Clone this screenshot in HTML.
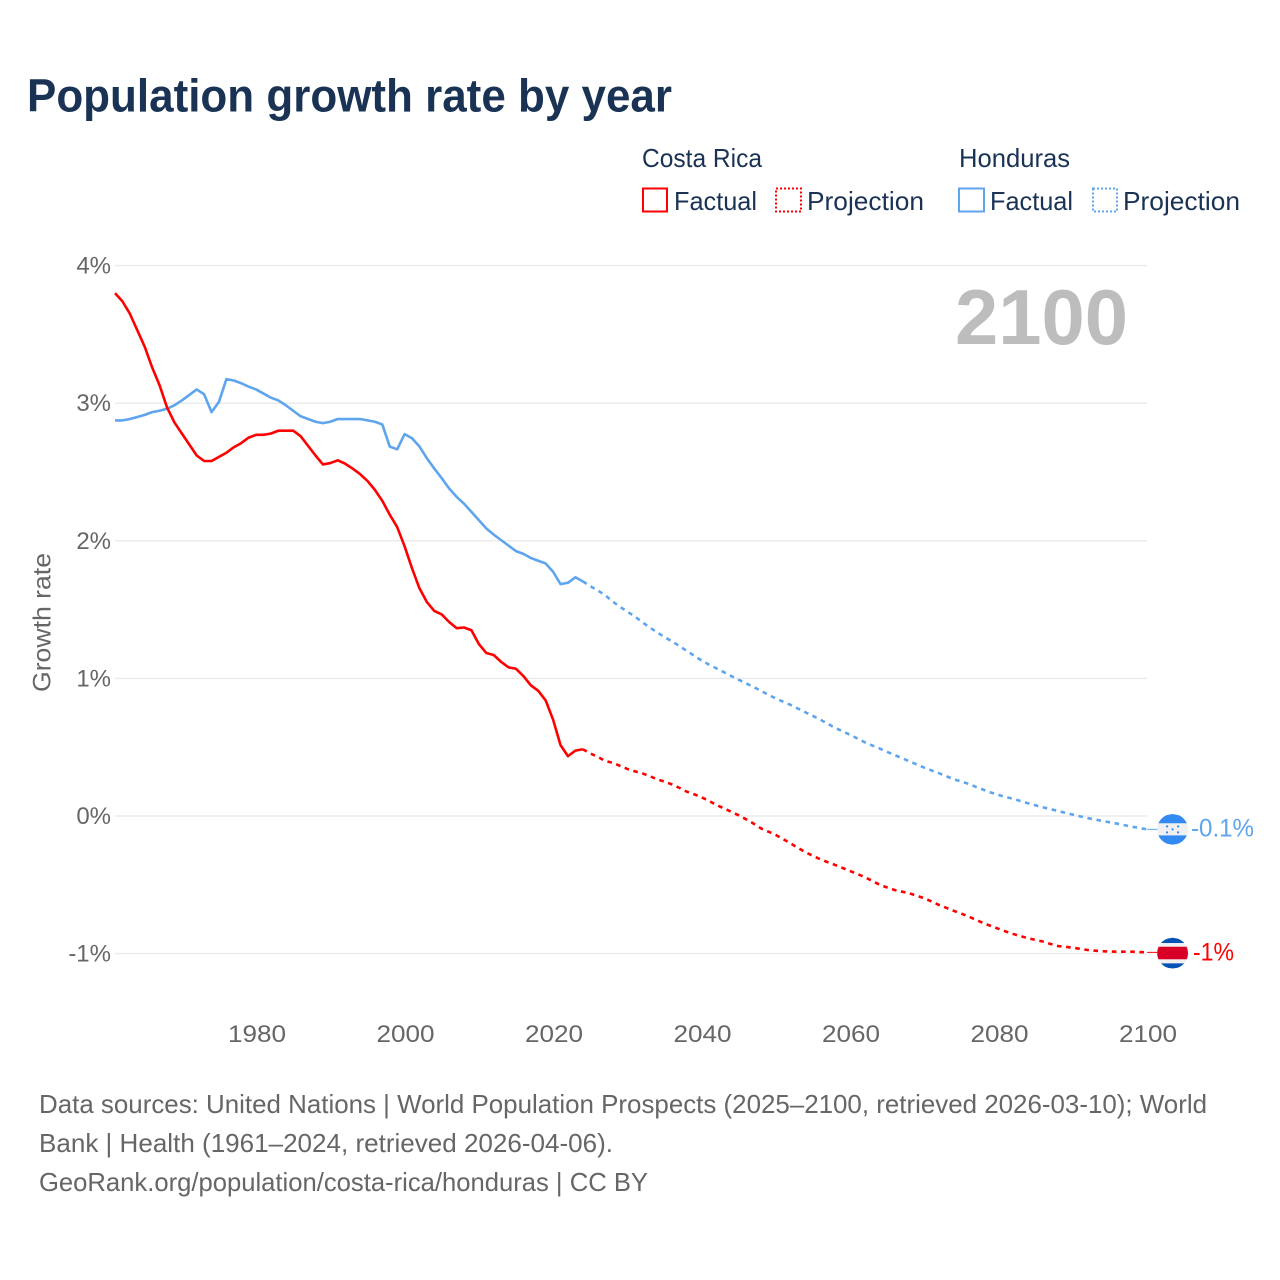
<!DOCTYPE html>
<html lang="en">
<head>
<meta charset="utf-8">
<title>Population growth rate by year</title>
<style>
  html, body { margin: 0; padding: 0; background: #ffffff; }
  svg { display: block; }
  text { font-family: "Liberation Sans", sans-serif; }
</style>
</head>
<body>
<svg id="chart" xmlns="http://www.w3.org/2000/svg" width="1280" height="1280" viewBox="0 0 1280 1280">
  <rect x="0" y="0" width="1280" height="1280" fill="#ffffff"/>
  <text x="27" y="111.500" font-size="46" font-weight="700" fill="#1a3355" textLength="645" lengthAdjust="spacingAndGlyphs">Population growth rate by year</text>

  <g font-size="26" fill="#1a3355">
    <text x="642" y="167" textLength="120" lengthAdjust="spacingAndGlyphs">Costa Rica</text>
    <text x="959" y="167" textLength="111" lengthAdjust="spacingAndGlyphs">Honduras</text>
    <g>
      <rect x="643" y="188.500" width="24" height="23" fill="none" stroke="#ff0000" stroke-width="2"/>
      <text x="674" y="210" textLength="83" lengthAdjust="spacingAndGlyphs">Factual</text>
    </g>
    <g>
      <rect x="776" y="188.500" width="25" height="23" fill="none" stroke="#ff0000" stroke-width="2" stroke-dasharray="2 2"/>
      <text x="807" y="210" textLength="117" lengthAdjust="spacingAndGlyphs">Projection</text>
    </g>
    <g>
      <rect x="959" y="188.500" width="25" height="23" fill="none" stroke="#5fa5ee" stroke-width="2"/>
      <text x="990" y="210" textLength="83" lengthAdjust="spacingAndGlyphs">Factual</text>
    </g>
    <g>
      <rect x="1093" y="188.500" width="24" height="23" fill="none" stroke="#5fa5ee" stroke-width="2" stroke-dasharray="2 2"/>
      <text x="1123" y="210" textLength="117" lengthAdjust="spacingAndGlyphs">Projection</text>
    </g>
  </g>

  <g id="grid"></g>
  <g id="y-ticks"></g>
  <g id="x-ticks"></g>
  <text transform="translate(50.500 692) rotate(-90)" font-size="25" fill="#666666" textLength="139" lengthAdjust="spacingAndGlyphs">Growth rate</text>
  <text id="year-label" x="955" y="344" font-size="78" font-weight="700" fill="#bdbdbd" textLength="173" lengthAdjust="spacingAndGlyphs">2100</text>
  <g id="series"></g>
  <g id="end-markers"></g>

  <g font-size="26" fill="#666666">
    <text x="39" y="1113" textLength="1168" lengthAdjust="spacingAndGlyphs">Data sources: United Nations | World Population Prospects (2025–2100, retrieved 2026-03-10); World</text>
    <text x="39" y="1152" textLength="574" lengthAdjust="spacingAndGlyphs">Bank | Health (1961–2024, retrieved 2026-04-06).</text>
    <text x="39" y="1191" textLength="609" lengthAdjust="spacingAndGlyphs">GeoRank.org/population/costa-rica/honduras | CC BY</text>
  </g>
</svg>
<script>
var yTickValues = [4, 3, 2, 1, 0, -1];
var yTickLabels = ["4%", "3%", "2%", "1%", "0%", "-1%"];
var xTickYears = [1980, 2000, 2020, 2040, 2060, 2080, 2100];
var factualStartYear = 1961;
var projectionStartYear = 2024;

var costaRicaFactual = [3.80, 3.74, 3.65, 3.53, 3.41, 3.26, 3.13, 2.97, 2.86, 2.78, 2.70, 2.62, 2.58, 2.58, 2.61, 2.64, 2.68, 2.71, 2.75, 2.77, 2.77, 2.78, 2.80, 2.80, 2.80, 2.76, 2.69, 2.62, 2.555, 2.565, 2.585, 2.56, 2.525, 2.485, 2.435, 2.37, 2.29, 2.19, 2.10, 1.96, 1.80, 1.655, 1.555, 1.49, 1.465, 1.41, 1.365, 1.37, 1.35, 1.25, 1.185, 1.17, 1.12, 1.08, 1.07, 1.017, 0.95, 0.91, 0.84, 0.70, 0.515, 0.435, 0.475, 0.485];
var costaRicaProjection = [0.485, 0.455, 0.43, 0.40, 0.387, 0.365, 0.342, 0.325, 0.31, 0.29, 0.267, 0.25, 0.23, 0.205, 0.177, 0.158, 0.136, 0.11, 0.08, 0.056, 0.03, 0.005, -0.024, -0.055, -0.09, -0.114, -0.138, -0.168, -0.20, -0.232, -0.264, -0.29, -0.315, -0.336, -0.356, -0.378, -0.40, -0.422, -0.445, -0.472, -0.50, -0.52, -0.538, -0.55, -0.562, -0.58, -0.598, -0.622, -0.647, -0.668, -0.69, -0.71, -0.732, -0.756, -0.78, -0.80, -0.82, -0.84, -0.858, -0.874, -0.889, -0.901, -0.913, -0.93, -0.945, -0.951, -0.957, -0.966, -0.974, -0.979, -0.983, -0.985, -0.986, -0.986, -0.986, -0.989, -0.991];

var hondurasFactual = [2.875, 2.875, 2.885, 2.90, 2.915, 2.935, 2.945, 2.96, 2.985, 3.02, 3.06, 3.10, 3.065, 2.935, 3.01, 3.175, 3.165, 3.145, 3.12, 3.10, 3.07, 3.04, 3.02, 2.985, 2.945, 2.905, 2.885, 2.865, 2.855, 2.865, 2.885, 2.885, 2.885, 2.885, 2.875, 2.865, 2.845, 2.685, 2.665, 2.775, 2.745, 2.685, 2.60, 2.525, 2.455, 2.38, 2.32, 2.27, 2.21, 2.15, 2.09, 2.045, 2.005, 1.965, 1.925, 1.905, 1.875, 1.855, 1.835, 1.775, 1.685, 1.695, 1.735, 1.705];
var hondurasProjection = [1.705, 1.67, 1.64, 1.605, 1.56, 1.52, 1.485, 1.45, 1.41, 1.37, 1.335, 1.30, 1.27, 1.235, 1.20, 1.165, 1.13, 1.10, 1.073, 1.045, 1.017, 0.99, 0.964, 0.937, 0.91, 0.88, 0.855, 0.83, 0.807, 0.78, 0.753, 0.727, 0.70, 0.67, 0.64, 0.615, 0.59, 0.563, 0.535, 0.512, 0.49, 0.466, 0.443, 0.42, 0.397, 0.374, 0.351, 0.33, 0.31, 0.288, 0.267, 0.25, 0.233, 0.21, 0.19, 0.17, 0.153, 0.138, 0.124, 0.108, 0.092, 0.077, 0.063, 0.05, 0.036, 0.023, 0.01, -0.003, -0.015, -0.026, -0.036, -0.046, -0.056, -0.067, -0.078, -0.088, -0.097];

var endLabelCostaRica = "-1%";
var endLabelHonduras = "-0.1%";

var SVG_NS = "http://www.w3.org/2000/svg";
var RED = "#ff0000";
var BLUE = "#5fa5ee";

function xScale(year) {
  return 256.1 + (year - 1980) * 7.425;
}
function yScale(value) {
  return 816 - value * 137.6;
}
function make(tag, parent, attrs, content) {
  var el = document.createElementNS(SVG_NS, tag);
  for (var key in attrs) {
    el.setAttribute(key, attrs[key]);
  }
  if (content !== undefined) {
    el.textContent = content;
  }
  parent.appendChild(el);
  return el;
}
function buildPoints(startYear, values) {
  return values.map(function (value, i) {
    return xScale(startYear + i).toFixed(2) + "," + yScale(value).toFixed(2);
  }).join(" ");
}

var gridGroup = document.getElementById("grid");
var yTickGroup = document.getElementById("y-ticks");
yTickValues.forEach(function (value, i) {
  var line = make("line", gridGroup, {
    x1: xScale(1961), x2: xScale(2100), y1: yScale(value), y2: yScale(value),
    stroke: "#ebebeb", "stroke-width": 1.5
  });
  
  
  var label = make("text", yTickGroup, {
    x: 111, y: yScale(value) + 8, "text-anchor": "end", "font-size": 24, fill: "#666666"
  }, yTickLabels[i]);
  
  
});

var xTickGroup = document.getElementById("x-ticks");
xTickYears.forEach(function (year) {
  var label = make("text", xTickGroup, {
    x: xScale(year) + 0.9, y: 1042, "text-anchor": "middle", "font-size": 24, fill: "#666666",
    textLength: 58, lengthAdjust: "spacingAndGlyphs"
  }, String(year));
  
  
});

var seriesGroup = document.getElementById("series");
function drawLine(startYear, values, color, dashed, name) {
  var attrs = {
    points: buildPoints(startYear, values), fill: "none", stroke: color,
    "stroke-width": 2.6, "stroke-linejoin": "round"
  };
  if (dashed) {
    attrs["stroke-dasharray"] = "4.6 4.6";
  }
  var line = make("polyline", seriesGroup, attrs);
  
  
}
drawLine(factualStartYear, hondurasFactual, BLUE, false, "line-honduras-factual");
drawLine(projectionStartYear, hondurasProjection, BLUE, true, "line-honduras-projection");
drawLine(factualStartYear, costaRicaFactual, RED, false, "line-costa-rica-factual");
drawLine(projectionStartYear, costaRicaProjection, RED, true, "line-costa-rica-projection");

var markerGroup = document.getElementById("end-markers");
var flagX = 1172.6;
var lastYear = 2100;

function drawConnector(value, color, name) {
  var y = yScale(value);
  var connector = make("line", markerGroup, {
    x1: xScale(lastYear), x2: flagX - 14, y1: y, y2: y, stroke: color, "stroke-width": 1
  });
  
  
}
function clipBand(group, y, h, fill) {
  var halfWidth = function (d) { return Math.sqrt(Math.max(0, 15.4 * 15.4 - d * d)); };
  var pts = [];
  for (var s = 0; s <= 8; s++) {
    var yy = y + h * s / 8;
    pts.push((-halfWidth(yy)).toFixed(2) + "," + yy.toFixed(2));
  }
  for (var t = 8; t >= 0; t--) {
    var y2 = y + h * t / 8;
    pts.push(halfWidth(y2).toFixed(2) + "," + y2.toFixed(2));
  }
  make("polygon", group, { points: pts.join(" "), fill: fill });
}

var hnLast = hondurasProjection[hondurasProjection.length - 1];
var crLast = costaRicaProjection[costaRicaProjection.length - 1];
drawConnector(hnLast, BLUE, "connector-honduras");
drawConnector(crLast, RED, "connector-costa-rica");

var hnFlag = make("g", markerGroup, { transform: "translate(" + flagX + " " + yScale(hnLast) + ")" });


clipBand(hnFlag, -15.4, 9.4, "#338af3");
clipBand(hnFlag, -6, 12, "#f0f0f0");
clipBand(hnFlag, 6, 9.4, "#338af3");
[[-5.5, -3], [5.5, -3], [0, 0], [-5.5, 3], [5.5, 3]].forEach(function (p) {
  make("circle", hnFlag, { cx: p[0], cy: p[1], r: 1.1, fill: "#338af3" });
});

var crFlag = make("g", markerGroup, { transform: "translate(" + flagX + " " + (yScale(crLast) + 0.8) + ")" });


clipBand(crFlag, -15.4, 5.4, "#0052b4");
clipBand(crFlag, -10, 3.6, "#f0f0f0");
clipBand(crFlag, -6.4, 12.6, "#d80027");
clipBand(crFlag, 6.2, 4, "#f0f0f0");
clipBand(crFlag, 10.2, 5.2, "#0052b4");

var hnLabel = make("text", markerGroup, {
  x: 1191, y: yScale(hnLast) + 7, "font-size": 25, fill: BLUE,
  textLength: 63, lengthAdjust: "spacingAndGlyphs"
}, endLabelHonduras);



var crLabel = make("text", markerGroup, {
  x: 1193, y: yScale(crLast) + 8, "font-size": 25, fill: RED,
  textLength: 41, lengthAdjust: "spacingAndGlyphs"
}, endLabelCostaRica);


</script>
</body>
</html>
